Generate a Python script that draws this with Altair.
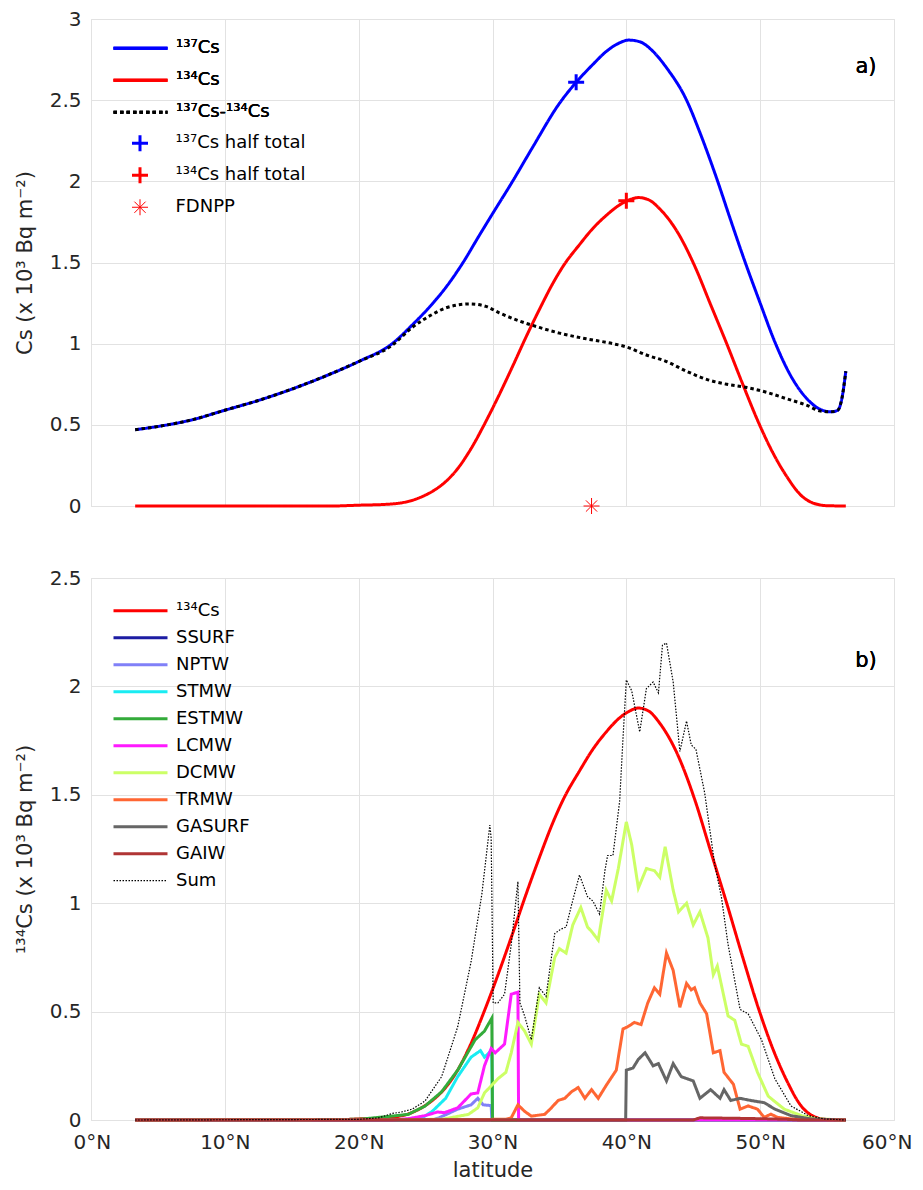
import pandas as pd
import altair as alt

FONT = "DejaVu Sans"

# ---- panel a) : inventories along latitude ----
cs137_lat = [3.3, 5, 7.5, 10, 12.5, 15, 17.5, 20, 22.5, 24, 25.5, 26.5, 27.8, 29, 30, 31.5, 33,
             35, 36.25, 37.5, 38.5, 39.3, 40.2, 41, 42, 43, 44.5, 45.5, 46.7, 47.8, 48.8, 50,
             51.1, 52.3, 53.5, 54.5, 55.3, 55.8, 56.1, 56.4]
cs137_val = [0.47, 0.49, 0.53, 0.59, 0.65, 0.72, 0.80, 0.89, 1.00, 1.115, 1.245, 1.345, 1.50,
             1.665, 1.80, 2.00, 2.21, 2.48, 2.61, 2.72, 2.80, 2.845, 2.87, 2.86, 2.80, 2.70,
             2.50, 2.30, 2.03, 1.76, 1.52, 1.25, 1.01, 0.80, 0.66, 0.595, 0.58, 0.59, 0.66, 0.83]

diff_lat = [3.3, 5, 7.5, 10, 12.5, 15, 17.5, 20, 22.5, 24, 25.5, 26.5, 28.3, 29.5, 30.5, 32,
            33.5, 35, 37, 39, 40, 41.5, 43, 44.5, 46, 47.5, 49, 50.5, 52, 53.5, 54.5, 55.3,
            55.8, 56.1, 56.4]
diff_val = [0.47, 0.49, 0.53, 0.59, 0.65, 0.72, 0.80, 0.89, 0.99, 1.10, 1.18, 1.22, 1.245, 1.23,
            1.19, 1.14, 1.10, 1.065, 1.03, 1.0, 0.98, 0.93, 0.89, 0.83, 0.78, 0.75, 0.73, 0.70,
            0.66, 0.62, 0.585, 0.58, 0.59, 0.66, 0.83]

cs134_lat = [3.3, 18, 20, 22, 23.8, 24.8, 25.7, 26.5, 27.3, 28.3, 29.5, 30.5, 31.5, 32.5, 33.5,
             34.5, 35.3, 36.5, 37.5, 38.5, 39.5, 40.2, 40.9, 41.7, 42.5, 43.8, 45.1, 46.3, 47.5,
             48.7, 49.9, 51.0, 52.0, 53.0, 53.9, 55, 56.4]
cs134_val = [0, 0, 0.005, 0.01, 0.03, 0.06, 0.10, 0.15, 0.22, 0.34, 0.52, 0.685, 0.86, 1.04,
             1.21, 1.37, 1.48, 1.61, 1.71, 1.79, 1.855, 1.885, 1.90, 1.885, 1.83, 1.69, 1.48,
             1.24, 1.00, 0.75, 0.51, 0.32, 0.18, 0.07, 0.02, 0.002, 0]

marker_names = ["¹³⁷Cs half total", "¹³⁴Cs half total", "FDNPP"]
marker_lat = [36.25, 40.0, 37.4]
marker_val = [2.61, 1.88, 0.0]

# ---- panel b) : 134Cs by water mass ----
sum_lat = [3.3, 20, 21.5, 22.5, 23.2, 24, 24.95, 26.2, 27.4, 28.4, 29.2, 29.8, 29.9, 30.05,
           30.4, 30.9, 31.4, 31.9, 32.05, 32.4, 32.9, 33.5, 34.0, 34.65, 35.1, 35.5, 35.9, 36.5,
           37.1, 37.5, 38.0, 38.4, 38.6, 39.0, 39.5, 39.75, 40.0, 40.4, 41.0, 41.5, 42.0, 42.4,
           42.7, 43.0, 43.5, 44.0, 44.5, 44.85, 45.2, 45.85, 46.6, 47.1, 47.6, 48.5, 49.1, 50.1,
           51.1, 52.3, 53.6, 54.8, 56.4]
sum_val = [0, 0.003, 0.01, 0.03, 0.037, 0.05, 0.087, 0.2, 0.43, 0.73, 1.04, 1.36, 1.30, 0.54,
           0.54, 0.58, 0.81, 1.10, 0.54, 0.48, 0.37, 0.61, 0.57, 0.86, 0.88, 0.89, 0.99, 1.13,
           1.03, 1.01, 0.95, 1.15, 1.22, 1.22, 1.47, 1.76, 2.03, 1.98, 1.79, 1.99, 2.02, 1.97,
           2.19, 2.20, 2.02, 1.70, 1.84, 1.73, 1.71, 1.51, 1.18, 1.03, 0.81, 0.51, 0.49, 0.37,
           0.19, 0.065, 0.02, 0.005, 0]

ssurf_lat = [3.3, 56.4]
ssurf_val = [0, 0]

nptw_lat = [3.3, 25.5, 26, 27.4, 28.4, 28.9, 29.3, 29.8, 29.9, 29.95, 56.4]
nptw_val = [0, 0, 0.01, 0.05, 0.07, 0.10, 0.07, 0.067, 0.067, 0, 0]

stmw_lat = [3.3, 24.5, 25.5, 26.5, 27.4, 28.4, 29.1, 29.4, 29.75, 29.95, 30.0, 56.4]
stmw_val = [0, 0, 0.04, 0.10, 0.20, 0.29, 0.32, 0.29, 0.31, 0.30, 0, 0]

estmw_lat = [3.3, 20, 22.5, 23.7, 24.95, 26.2, 27.4, 28.7, 29.4, 29.95, 30.0, 56.4]
estmw_val = [0, 0.003, 0.018, 0.026, 0.064, 0.13, 0.23, 0.37, 0.41, 0.47, 0, 0]

lcmw_lat = [3.3, 22.5, 23.7, 24.95, 25.9, 26.4, 27.4, 28.4, 28.9, 29.4, 29.9, 30.2, 30.9, 31.4,
            31.9, 31.95, 56.4]
lcmw_val = [0, 0, 0.006, 0.02, 0.037, 0.034, 0.056, 0.12, 0.125, 0.25, 0.33, 0.31, 0.35, 0.58,
            0.59, 0, 0]

dcmw_lat = [3.3, 26.2, 28.2, 28.9, 29.4, 30.4, 31.0, 31.4, 31.9, 32.4, 32.9, 33.5, 34.0, 34.65,
            35.0, 35.5, 36.0, 36.6, 37.1, 37.4, 37.9, 38.5, 38.9, 39.4, 40.0, 40.4, 40.9, 41.5,
            42.1, 42.5, 42.9, 43.5, 43.9, 44.5, 45.0, 45.5, 46.1, 46.5, 46.8, 47.6, 48.1, 48.6,
            49.1, 49.8, 50.6, 51.8, 53.1, 54.3, 56.4]
dcmw_val = [0, 0.003, 0.026, 0.056, 0.125, 0.19, 0.22, 0.31, 0.45, 0.41, 0.35, 0.58, 0.54, 0.75,
            0.79, 0.77, 0.90, 0.98, 0.89, 0.87, 0.83, 1.06, 1.01, 1.16, 1.375, 1.27, 1.07, 1.16,
            1.15, 1.12, 1.26, 1.06, 0.96, 1.0, 0.90, 0.96, 0.84, 0.67, 0.71, 0.48, 0.46, 0.35,
            0.34, 0.22, 0.11, 0.05, 0.02, 0.005, 0]

trmw_lat = [3.3, 31.0, 31.4, 31.9, 32.4, 32.9, 33.9, 34.4, 34.9, 35.4, 35.9, 36.4, 36.9, 37.4,
            37.9, 38.5, 39.25, 39.75, 40.1, 40.6, 41.1, 41.6, 42.1, 42.5, 43.0, 43.5, 44.0, 44.5,
            44.85, 45.1, 45.5, 46.0, 46.5, 47.0, 47.3, 48.0, 48.5, 49.1, 49.8, 50.3, 50.8, 51.3,
            52.3, 56.4]
trmw_val = [0, 0.003, 0.01, 0.07, 0.04, 0.018, 0.026, 0.056, 0.09, 0.10, 0.13, 0.15, 0.10, 0.14,
            0.10, 0.16, 0.23, 0.42, 0.43, 0.45, 0.44, 0.54, 0.61, 0.58, 0.77, 0.69, 0.52, 0.63,
            0.60, 0.61, 0.54, 0.49, 0.31, 0.32, 0.22, 0.165, 0.05, 0.065, 0.05, 0.012, 0.027,
            0.012, 0.005, 0]

gasurf_lat = [3.3, 39.95, 40.0, 40.5, 40.9, 41.4, 42.0, 42.4, 43.0, 43.5, 44.1, 45.0, 45.5, 46.3,
              47.0, 47.3, 47.8, 48.5, 49.3, 50.3, 51.1, 52.3, 53.8, 56.4]
gasurf_val = [0, 0, 0.23, 0.24, 0.28, 0.31, 0.25, 0.26, 0.18, 0.26, 0.20, 0.18, 0.10, 0.14, 0.10,
              0.14, 0.09, 0.10, 0.09, 0.08, 0.05, 0.02, 0.005, 0]

gaiw_lat = [3.3, 45, 45.5, 48, 50, 52, 53, 56.4]
gaiw_val = [0, 0, 0.01, 0.008, 0.006, 0.003, 0, 0]

line_names = ["¹³⁷Cs", "¹³⁴Cs", "¹³⁷Cs-¹³⁴Cs"]
line_colors = ["#0000ff", "#ff0000", "#000000"]
line_dash = [[1, 0], [1, 0], [3.5, 3]]

wm_names = ["¹³⁴Cs", "SSURF", "NPTW", "STMW", "ESTMW", "LCMW", "DCMW", "TRMW", "GASURF",
            "GAIW", "Sum"]
wm_colors = ["#ff0000", "#1c1ca3", "#8080f8", "#19ecf2", "#33ab3a", "#ff1aff", "#ccff66",
             "#ff6633", "#666666", "#b03535", "#000000"]
wm_dash = [[1, 0]] * 10 + [[1.5, 1.5]]
wm_width = [3] * 10 + [1.2]


def frame(name, lat, val):
    return pd.DataFrame({"lat": lat, "val": val, "series": name})


top_series = {
    "¹³⁷Cs": frame("¹³⁷Cs", cs137_lat, cs137_val),
    "¹³⁴Cs": frame("¹³⁴Cs", cs134_lat, cs134_val),
    "¹³⁷Cs-¹³⁴Cs": frame("¹³⁷Cs-¹³⁴Cs", diff_lat, diff_val),
}
markers = pd.DataFrame({"lat": marker_lat, "val": marker_val, "marker": marker_names})

bottom_series = {
    "¹³⁴Cs": frame("¹³⁴Cs", cs134_lat, cs134_val),
    "SSURF": frame("SSURF", ssurf_lat, ssurf_val),
    "NPTW": frame("NPTW", nptw_lat, nptw_val),
    "STMW": frame("STMW", stmw_lat, stmw_val),
    "ESTMW": frame("ESTMW", estmw_lat, estmw_val),
    "LCMW": frame("LCMW", lcmw_lat, lcmw_val),
    "DCMW": frame("DCMW", dcmw_lat, dcmw_val),
    "TRMW": frame("TRMW", trmw_lat, trmw_val),
    "GASURF": frame("GASURF", gasurf_lat, gasurf_val),
    "GAIW": frame("GAIW", gaiw_lat, gaiw_val),
    "Sum": frame("Sum", sum_lat, sum_val),
}

W = 803
H_TOP = 487
H_BOT = 542
GAP = 72
GRID = "#e2e2e2"
INK = "#262626"

x_scale = alt.Scale(domain=[0, 60], nice=False)
x_top_axis = alt.Axis(values=list(range(0, 61, 10)), labels=False, ticks=False, domain=False,
                      grid=True, gridColor=GRID, title=None)
# end labels pushed flush so the last one stays inside the page
x_bot_axis = alt.Axis(values=list(range(0, 61, 10)), labelExpr="datum.value + '°N'",
                      labelFlush=True, labelFlushOffset=18, ticks=False, domain=False,
                      grid=True, gridColor=GRID,
                      labelFontSize=20, labelFont=FONT, labelColor=INK, labelPadding=12,
                      title="latitude", titleFontSize=21, titleFont=FONT,
                      titleFontWeight="normal", titleColor=INK, titlePadding=7)


def y_axis(title, top):
    return alt.Axis(values=[v / 2 for v in range(0, int(top * 2) + 1)], format="~g",
                    ticks=False, domain=False, grid=True, gridColor=GRID,
                    labelFontSize=20, labelFont=FONT, labelColor=INK, labelPadding=10,
                    title=title, titleFontSize=21, titleFont=FONT, titleFontWeight="normal",
                    titleColor=INK, titlePadding=14)


def line_legend(y0, row_h):
    return alt.Legend(title=None, orient="none", legendX=21, legendY=y0, clipHeight=row_h,
                      rowPadding=0, padding=0, symbolType="stroke", symbolSize=2916,
                      symbolStrokeWidth=3, symbolOffset=0, labelOffset=7, labelFontSize=18,
                      labelFont=FONT, labelColor="#000000", labelLimit=400)


# ---- top panel ----
leg_a = line_legend(13.5, 31.5)
y_top = alt.Y("val:Q", scale=alt.Scale(domain=[0, 3], nice=False),
              axis=y_axis("Cs (x 10³ Bq m⁻²)", 3))
top_layers = []
for name in line_names:
    top_layers.append(
        alt.Chart(top_series[name]).mark_line(strokeWidth=3, interpolate="monotone",
                                              strokeCap="butt").encode(
            x=alt.X("lat:Q", scale=x_scale, axis=x_top_axis),
            y=y_top,
            color=alt.Color("series:N", scale=alt.Scale(domain=line_names, range=line_colors),
                            legend=leg_a),
            strokeDash=alt.StrokeDash("series:N",
                                      scale=alt.Scale(domain=line_names, range=line_dash),
                                      legend=leg_a),
        )
    )

plus = "M-1,0H1M0,-1V1"
star = "M-1,0H1M0,-1V1M-0.7,-0.7L0.7,0.7M-0.7,0.7L0.7,-0.7"
leg_m = alt.Legend(title=None, orient="none", legendX=39.5, legendY=108.5,
                   clipHeight=31.5, rowPadding=0, padding=0, symbolSize=256,
                   symbolStrokeWidth=2.5, symbolOffset=0, labelOffset=26, labelFontSize=18,
                   labelFont=FONT, labelColor="#000000", labelLimit=400)
mk = alt.Chart(markers).mark_point(filled=False, size=256, opacity=1).encode(
    x=alt.X("lat:Q", scale=x_scale, axis=x_top_axis),
    y=y_top,
    color=alt.Color("marker:N", scale=alt.Scale(domain=marker_names,
                                                range=["#0000ff", "#ff0000", "#ff0000"]),
                    legend=leg_m),
    shape=alt.Shape("marker:N", scale=alt.Scale(domain=marker_names, range=[plus, plus, star]),
                    legend=leg_m),
    strokeWidth=alt.StrokeWidth("marker:N",
                                scale=alt.Scale(type="ordinal", domain=marker_names,
                                                range=[3, 3, 1]),
                                legend=leg_m),
)

tag_a = alt.Chart(markers).mark_text(text="a)", fontSize=21, font=FONT, color="#000000",
                                     align="center", baseline="middle").encode(
    x=alt.value(775), y=alt.value(48))

top = alt.layer(*top_layers, mk, tag_a).resolve_scale(
    color="independent", strokeDash="independent", shape="independent",
    strokeWidth="independent").properties(width=W, height=H_TOP)

# ---- bottom panel ----
leg_b = line_legend(19.5, 26.3)
y_bot = alt.Y("val:Q", scale=alt.Scale(domain=[0, 2.5], nice=False),
              axis=y_axis("¹³⁴Cs (x 10³ Bq m⁻²)", 2.5))
bot_layers = []
for name in wm_names:
    bot_layers.append(
        alt.Chart(bottom_series[name]).mark_line(
            interpolate="monotone" if name == "¹³⁴Cs" else "linear",
            strokeCap="butt").encode(
            x=alt.X("lat:Q", scale=x_scale, axis=x_bot_axis),
            y=y_bot,
            color=alt.Color("series:N", scale=alt.Scale(domain=wm_names, range=wm_colors),
                            legend=leg_b),
            strokeDash=alt.StrokeDash("series:N",
                                      scale=alt.Scale(domain=wm_names, range=wm_dash),
                                      legend=leg_b),
            strokeWidth=alt.StrokeWidth("series:N",
                                        scale=alt.Scale(type="ordinal", domain=wm_names,
                                                        range=wm_width),
                                        legend=leg_b),
        )
    )

tag_b = alt.Chart(markers).mark_text(text="b)", fontSize=21, font=FONT, color="#000000",
                                     align="center", baseline="middle").encode(
    x=alt.value(775), y=alt.value(83))

bottom = alt.layer(*bot_layers, tag_b).properties(width=W, height=H_BOT)

chart = alt.vconcat(top, bottom, spacing=GAP, bounds="flush").resolve_scale(
    color="independent", strokeDash="independent", strokeWidth="independent",
    shape="independent"
).properties(
    padding={"left": 5, "top": 0, "right": 0, "bottom": 0}
).configure_view(stroke=INK, strokeWidth=1).configure(font=FONT)

chart.save("out.html", embed_options={"renderer": "svg", "actions": False})
